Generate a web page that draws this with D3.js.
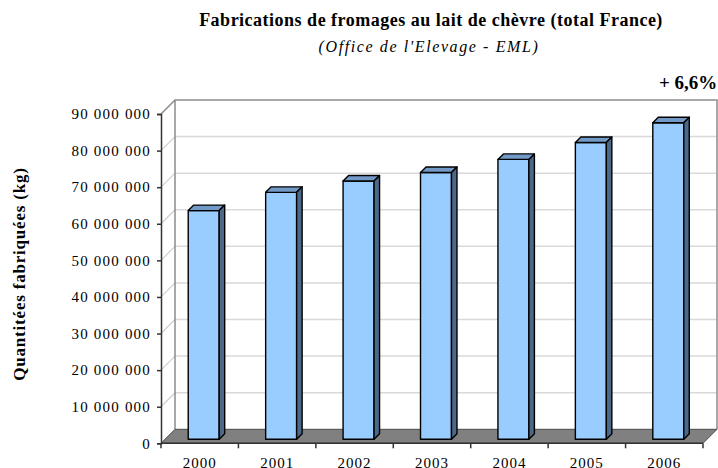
<!DOCTYPE html>
<html>
<head>
<meta charset="utf-8">
<script src="https://cdn.jsdelivr.net/npm/d3@7"></script>
<style>
body { margin: 0; background: #fff; }
svg { display: block; font-family: "Liberation Serif", "Times New Roman", serif; }
.title { font-size: 18px; font-weight: bold; letter-spacing: 0.5px; }
.subtitle { font-size: 16px; font-style: italic; letter-spacing: 1.6px; }
.growth { font-size: 19px; font-weight: bold; }
.ylabel { font-size: 17px; font-weight: bold; letter-spacing: 0.8px; }
.axis text { font-size: 15px; font-family: "Liberation Serif", "Times New Roman", serif; fill: #000; }
</style>
</head>
<body>
<svg id="chart" width="718" height="468"></svg>
<script>
var WIDTH = 718;
var HEIGHT = 468;

// data
var years = ["2000", "2001", "2002", "2003", "2004", "2005", "2006"];
var production = [62500000, 67500000, 70600000, 72900000, 76500000, 81100000, 86500000];
var yTicks = [0, 10000000, 20000000, 30000000, 40000000, 50000000, 60000000, 70000000, 80000000, 90000000];
var growthLabel = "+ 6,6%";

// plot frame (front plane) and 3d depth
var LEFT = 161, RIGHT = 703, TOP = 114, BOTTOM = 443.3;
var DEPTH = 14;       // wall depth
var BAR_SHIFT = 4;    // bar front face sits a little behind the front plane
var BAR_DEPTH = 5.5;

var fr = d3.formatLocale({decimal: ",", thousands: " ", grouping: [3], currency: ["", " €"]});
var fmt = fr.format(",");

var x = d3.scaleBand()
          .domain(years)
          .range([LEFT, RIGHT])
          .paddingInner(0.6)
          .paddingOuter(0.3);

var y = d3.scaleLinear()
          .domain([0, 90000000])
          .range([BOTTOM, TOP]);

var svg = d3.select("#chart");

/**
 * walls, gridlines and floor
 */
function drawWalls()
{
	var g = svg.append("g");

	// side wall gridlines
	g.selectAll("line.side")
		.data(yTicks.slice(1, -1))
		.enter().append("line")
		.attr("x1", LEFT).attr("y1", function(d){return y(d);})
		.attr("x2", LEFT + DEPTH).attr("y2", function(d){return y(d) - DEPTH;})
		.attr("stroke", "#cfcfcf").attr("stroke-width", 1.2);

	// back wall gridlines
	g.selectAll("line.back")
		.data(yTicks.slice(1, -1))
		.enter().append("line")
		.attr("x1", LEFT + DEPTH).attr("y1", function(d){return y(d) - DEPTH;})
		.attr("x2", RIGHT + DEPTH).attr("y2", function(d){return y(d) - DEPTH;})
		.attr("stroke", "#d9d9d9").attr("stroke-width", 1.5);

	// back wall frame
	g.append("path")
		.attr("d", "M" + LEFT + "," + y(90000000) +
		           "L" + (LEFT + DEPTH) + "," + (y(90000000) - DEPTH) +
		           "L" + (RIGHT + DEPTH) + "," + (y(90000000) - DEPTH) +
		           "L" + (RIGHT + DEPTH) + "," + (y(0) - DEPTH) +
		           "M" + (LEFT + DEPTH) + "," + (y(90000000) - DEPTH) +
		           "L" + (LEFT + DEPTH) + "," + (y(0) - DEPTH))
		.attr("fill", "none")
		.attr("stroke", "#8c8c8c")
		.attr("stroke-width", 1.5);

	// floor
	g.append("path")
		.attr("d", "M" + LEFT + "," + y(0) +
		           "L" + RIGHT + "," + y(0) +
		           "L" + (RIGHT + DEPTH) + "," + (y(0) - DEPTH) +
		           "L" + (LEFT + DEPTH) + "," + (y(0) - DEPTH) + "Z")
		.attr("fill", "#808080")
		.attr("stroke", "#4a4a4a")
		.attr("stroke-width", 1);
}

/**
 * 3d columns
 */
function drawBars()
{
	var w = x.bandwidth();
	var bars = svg.append("g")
		.selectAll("g")
		.data(production)
		.enter().append("g")
		.attr("stroke", "#000")
		.attr("stroke-width", 1.4)
		.attr("stroke-linejoin", "round");

	bars.append("rect")
		.attr("x", function(d, i){return x(years[i]) + BAR_SHIFT;})
		.attr("y", function(d){return y(d) - BAR_SHIFT;})
		.attr("width", w)
		.attr("height", function(d){return y(0) - y(d);})
		.attr("fill", "#99ccff");

	bars.append("path")
		.attr("d", function(d, i){
			var x0 = x(years[i]) + BAR_SHIFT, yt = y(d) - BAR_SHIFT;
			return "M" + x0 + "," + yt + "L" + (x0 + BAR_DEPTH) + "," + (yt - BAR_DEPTH) +
			       "L" + (x0 + w + BAR_DEPTH) + "," + (yt - BAR_DEPTH) + "L" + (x0 + w) + "," + yt + "Z";
		})
		.attr("fill", "#7399c6");

	bars.append("path")
		.attr("d", function(d, i){
			var x1 = x(years[i]) + BAR_SHIFT + w, yt = y(d) - BAR_SHIFT, yb = y(0) - BAR_SHIFT;
			return "M" + x1 + "," + yt + "L" + (x1 + BAR_DEPTH) + "," + (yt - BAR_DEPTH) +
			       "L" + (x1 + BAR_DEPTH) + "," + (yb - BAR_DEPTH) + "L" + x1 + "," + yb + "Z";
		})
		.attr("fill", "#4d6889");
}

/**
 * axes
 */
function drawAxes()
{
	var ya = svg.append("g")
		.attr("class", "axis")
		.attr("transform", "translate(" + LEFT + ",0)")
		.call(d3.axisLeft(y).tickValues(yTicks).tickSize(4).tickPadding(6).tickFormat(fmt));
	ya.select(".domain").attr("stroke", "#333").attr("stroke-width", 1.5);
	ya.selectAll(".tick line").attr("stroke", "#333").attr("stroke-width", 1.5);
	ya.selectAll("text").attr("letter-spacing", "1.2px");

	var xa = svg.append("g")
		.attr("class", "axis")
		.attr("transform", "translate(0," + BOTTOM + ")")
		.call(d3.axisBottom(x).tickSize(0).tickPadding(14));
	xa.select(".domain").remove();
	xa.selectAll("text").attr("font-size", "16px").attr("letter-spacing", "1px");

	// axis line and category boundary ticks
	var bounds = years.map(function(d){return x(d) - x.step() * x.paddingInner() / 2;});
	bounds.push(RIGHT);
	xa.append("line")
		.attr("x1", LEFT).attr("x2", RIGHT)
		.attr("stroke", "#333").attr("stroke-width", 1.5);
	xa.selectAll("line.b")
		.data(bounds)
		.enter().append("line")
		.attr("x1", function(d){return d;}).attr("x2", function(d){return d;})
		.attr("y1", 0).attr("y2", 5)
		.attr("stroke", "#333").attr("stroke-width", 1.5);
}

function drawTexts()
{
	svg.append("text")
		.attr("class", "title")
		.attr("x", 431).attr("y", 26)
		.attr("text-anchor", "middle")
		.text("Fabrications de fromages au lait de chèvre (total France)");

	svg.append("text")
		.attr("class", "subtitle")
		.attr("x", 429).attr("y", 52)
		.attr("text-anchor", "middle")
		.text("(Office de l'Elevage - EML)");

	svg.append("text")
		.attr("class", "growth")
		.attr("x", 659).attr("y", 89)
		.text(growthLabel);

	svg.append("text")
		.attr("class", "ylabel")
		.attr("transform", "translate(25,274) rotate(-90)")
		.attr("text-anchor", "middle")
		.text("Quantitées fabriquées (kg)");
}

drawWalls();
drawBars();
drawAxes();
drawTexts();
</script>
</body>
</html>
